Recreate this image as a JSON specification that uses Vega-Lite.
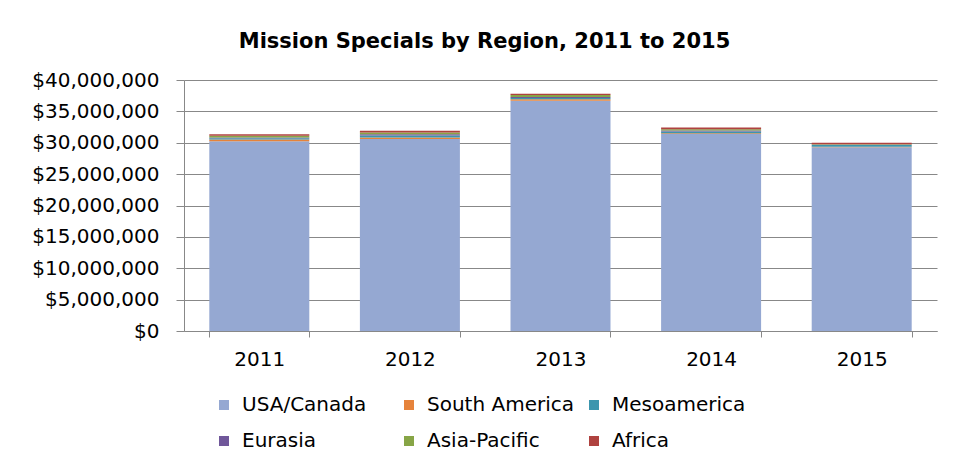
{
  "$schema": "https://vega.github.io/schema/vega-lite/v6.json",
  "width": 753,
  "height": 251,
  "autosize": {"type": "none"},
  "padding": {"left": 184, "top": 80, "right": 17, "bottom": 134},
  "background": "white",
  "title": {
    "text": "Mission Specials by Region, 2011  to 2015",
    "font": "DejaVu Sans",
    "fontSize": 21,
    "fontWeight": "bold",
    "color": "#000000",
    "anchor": "middle",
    "dx": -76,
    "offset": 18
  },
  "config": {
    "view": {"stroke": null},
    "font": "DejaVu Sans"
  },
  "data": {
    "values": [
      {"year": "2011", "region": "USA/Canada", "amount": 30250000},
      {"year": "2011", "region": "South America", "amount": 250000},
      {"year": "2011", "region": "Mesoamerica", "amount": 200000},
      {"year": "2011", "region": "Eurasia", "amount": 150000},
      {"year": "2011", "region": "Asia-Pacific", "amount": 250000},
      {"year": "2011", "region": "Africa", "amount": 250000},
      {"year": "2012", "region": "USA/Canada", "amount": 30600000},
      {"year": "2012", "region": "South America", "amount": 250000},
      {"year": "2012", "region": "Mesoamerica", "amount": 300000},
      {"year": "2012", "region": "Eurasia", "amount": 200000},
      {"year": "2012", "region": "Asia-Pacific", "amount": 300000},
      {"year": "2012", "region": "Africa", "amount": 250000},
      {"year": "2013", "region": "USA/Canada", "amount": 36700000},
      {"year": "2013", "region": "South America", "amount": 250000},
      {"year": "2013", "region": "Mesoamerica", "amount": 200000},
      {"year": "2013", "region": "Eurasia", "amount": 150000},
      {"year": "2013", "region": "Asia-Pacific", "amount": 300000},
      {"year": "2013", "region": "Africa", "amount": 200000},
      {"year": "2014", "region": "USA/Canada", "amount": 31400000},
      {"year": "2014", "region": "South America", "amount": 100000},
      {"year": "2014", "region": "Mesoamerica", "amount": 300000},
      {"year": "2014", "region": "Eurasia", "amount": 150000},
      {"year": "2014", "region": "Asia-Pacific", "amount": 200000},
      {"year": "2014", "region": "Africa", "amount": 300000},
      {"year": "2015", "region": "USA/Canada", "amount": 29300000},
      {"year": "2015", "region": "South America", "amount": 50000},
      {"year": "2015", "region": "Mesoamerica", "amount": 300000},
      {"year": "2015", "region": "Eurasia", "amount": 50000},
      {"year": "2015", "region": "Asia-Pacific", "amount": 50000},
      {"year": "2015", "region": "Africa", "amount": 250000}
    ]
  },
  "mark": {"type": "bar"},
  "encoding": {
    "x": {
      "field": "year",
      "type": "nominal",
      "scale": {"paddingInner": 0.336, "paddingOuter": 0.168},
      "axis": {
        "title": null,
        "labelAngle": 0,
        "labelFont": "DejaVu Sans",
        "labelFontSize": 20,
        "labelColor": "#000000",
        "labelPadding": 12,
        "tickBand": "extent",
        "tickSize": 6,
        "tickColor": "#888888",
        "domainColor": "#888888",
        "grid": false
      }
    },
    "y": {
      "field": "amount",
      "type": "quantitative",
      "aggregate": "sum",
      "stack": "zero",
      "scale": {"domain": [0, 40000000]},
      "axis": {
        "title": null,
        "format": "$,.0f",
        "values": [0, 5000000, 10000000, 15000000, 20000000, 25000000, 30000000, 35000000, 40000000],
        "labelFont": "DejaVu Sans",
        "labelFontSize": 20,
        "labelColor": "#000000",
        "labelPadding": 17,
        "tickSize": 8,
        "tickColor": "#888888",
        "domainColor": "#888888",
        "gridColor": "#888888",
        "gridWidth": 1
      }
    },
    "color": {
      "field": "region",
      "type": "nominal",
      "sort": ["USA/Canada", "South America", "Mesoamerica", "Eurasia", "Asia-Pacific", "Africa"],
      "scale": {
        "domain": ["USA/Canada", "South America", "Mesoamerica", "Eurasia", "Asia-Pacific", "Africa"],
        "range": ["#95A8D2", "#E6833B", "#3C96AE", "#70579A", "#87A546", "#AF423F"]
      },
      "legend": {
        "title": null,
        "orient": "none",
        "direction": "horizontal",
        "legendX": 30,
        "legendY": 315,
        "columns": 3,
        "gridAlign": "all",
        "symbolType": "square",
        "symbolSize": 100,
        "symbolStrokeWidth": 0,
        "labelFont": "DejaVu Sans",
        "labelFontSize": 20,
        "labelOffset": 8,
        "labelColor": "#000000",
        "labelLimit": 300,
        "columnPadding": 10,
        "rowPadding": 16
      }
    },
    "order": {"field": "region", "sort": "descending"}
  }
}
